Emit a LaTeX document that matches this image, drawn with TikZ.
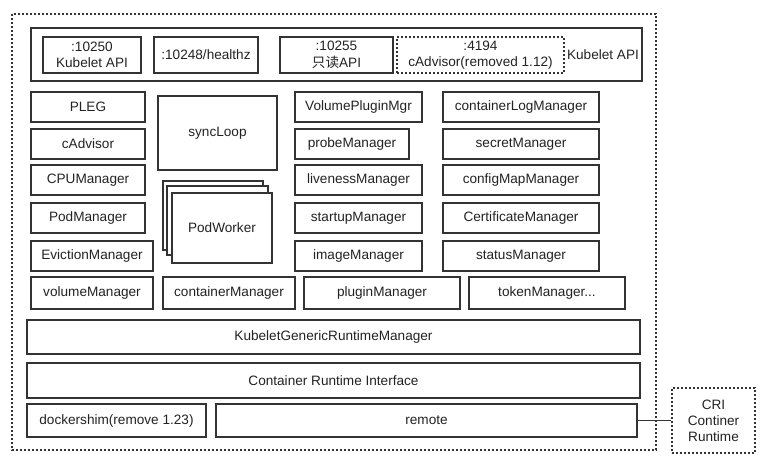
\documentclass[tikz,border=0pt]{standalone}
\usepackage{fontspec}
\setmainfont{Liberation Sans}
\newfontfamily\cjk{Noto Sans CJK SC}
\usepackage{tikz}
\usetikzlibrary{positioning}
\definecolor{linegray}{HTML}{333333}
\definecolor{textgray}{HTML}{222222}

\begin{document}
\begin{tikzpicture}[x=1pt,y=-1pt,
		box/.style={draw=linegray, line width=1.8pt, rectangle, inner sep=0pt, text=textgray, align=center, font=\fontsize{13.6}{16.5}\selectfont, minimum height=30pt},
		dotbox/.style={box, dash pattern=on 1.8pt off 2.2pt},
		row/.style={box, minimum height=34pt}
	]
		\useasboundingbox (0,0) rectangle (765,463);
		\draw[linegray, line width=1.8pt, dash pattern=on 1.8pt off 2.2pt] (12,14) rectangle (656,450);
		\draw (336.5,54.5) node[box, minimum width=611pt, minimum height=53pt] (apis) {};
		\draw (92,55) node[box, minimum width=98pt, minimum height=36pt] (port10250) {:10250\\Kubelet API};
		\draw (206,55) node[box, minimum width=104pt, minimum height=36pt] (port10248) {:10248/healthz};
		\draw (336.5,55) node[box, minimum width=113pt, minimum height=36pt] (port10255) {:10255\\{\cjk 只读}API};
		\draw (480.5,55) node[dotbox, minimum width=167pt, minimum height=36pt] (port4194) {:4194\\cAdvisor(removed 1.12)};
		\draw (603,55) node[text=textgray, font=\fontsize{13.6}{16.5}\selectfont] (apilabel) {Kubelet API};
		\draw (88,107) node[box, minimum width=114pt] (pleg) {PLEG};
		\draw (88,144) node[box, minimum width=114pt] (cadvisor) {cAdvisor};
		\draw (88,180) node[box, minimum width=114pt] (cpumgr) {CPUManager};
		\draw (88,218) node[box, minimum width=114pt] (podmgr) {PodManager};
		\draw (92,256) node[box, minimum width=122pt] (evictmgr) {EvictionManager};
		\draw (217.5,133) node[box, minimum width=119pt, minimum height=74pt] (syncloop) {syncLoop};
		\draw (213,215.5) node[box, fill=white, minimum width=100pt, minimum height=69pt] (worker3) {};
		\draw (217.5,220.5) node[box, fill=white, minimum width=101pt, minimum height=69pt] (worker2) {};
		\draw (222,228) node[box, fill=white, minimum width=100pt, minimum height=70pt] (worker1) {PodWorker};
		\draw (358.5,107) node[box, minimum width=127pt] (volplugin) {VolumePluginMgr};
		\draw (352,144) node[box, minimum width=114pt] (probemgr) {probeManager};
		\draw (358.5,180) node[box, minimum width=127pt] (livemgr) {livenessManager};
		\draw (358.5,218) node[box, minimum width=127pt] (startmgr) {startupManager};
		\draw (358.5,256) node[box, minimum width=127pt] (imagemgr) {imageManager};
		\draw (521,107) node[box, minimum width=156pt] (logmgr) {containerLogManager};
		\draw (521,144) node[box, minimum width=156pt] (secretmgr) {secretManager};
		\draw (521,180) node[box, minimum width=156pt] (cfgmgr) {configMapManager};
		\draw (521,218) node[box, minimum width=156pt] (certmgr) {CertificateManager};
		\draw (521,256) node[box, minimum width=156pt] (statusmgr) {statusManager};
		\draw (92,293) node[box, minimum width=122pt, minimum height=32pt] (volmgr) {volumeManager};
		\draw (229,293) node[box, minimum width=132pt, minimum height=32pt] (contmgr) {containerManager};
		\draw (382,293) node[box, minimum width=156pt, minimum height=32pt] (pluginmgr) {pluginManager};
		\draw (547,293) node[box, minimum width=156pt, minimum height=32pt] (tokenmgr) {tokenManager...};
		\draw (333.5,337) node[row, minimum width=613pt] (kgrm) {KubeletGenericRuntimeManager};
		\draw (333.5,380.5) node[row, minimum width=613pt, minimum height=35pt] (cri) {Container Runtime Interface};
		\draw (116.5,420.5) node[box, minimum width=179pt, minimum height=33pt] (dockershim) {dockershim(remove 1.23)};
		\draw (426.5,420.5) node[box, minimum width=421pt, minimum height=33pt] (remote) {remote};
		\draw (713.5,420.5) node[dotbox, minimum width=83pt, minimum height=65pt, font=\fontsize{13.6}{16}\selectfont] (runtime) {CRI\\Continer\\Runtime};
		\draw[linegray, line width=1.4pt] (remote.east) -- (runtime.west);
	\end{tikzpicture}
\end{document}
